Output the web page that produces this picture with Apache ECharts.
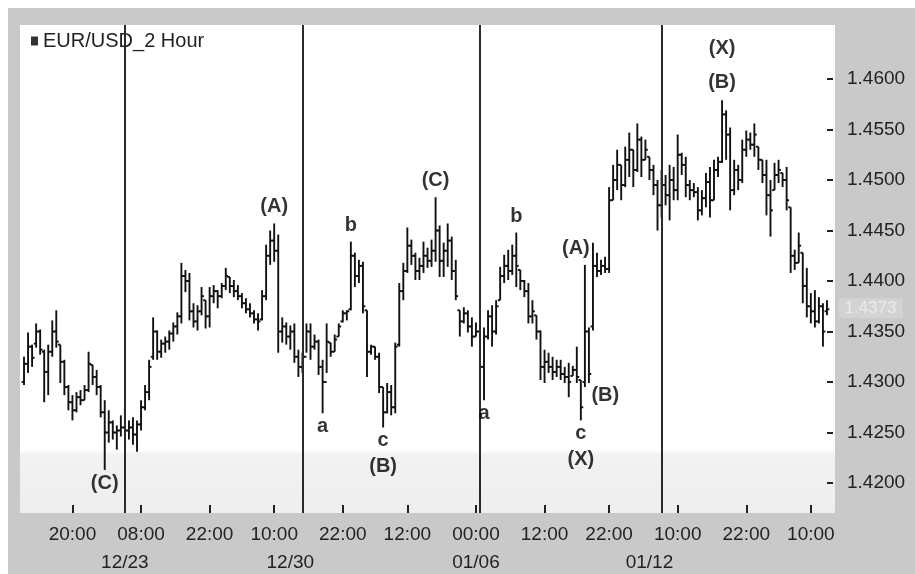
<!DOCTYPE html>
<html>
<head>
<meta charset="utf-8">
<script src="https://cdn.jsdelivr.net/npm/echarts@6/dist/echarts.min.js"></script>
<style>
    html, body { margin: 0; padding: 0; background: #fff; }
    #chart { position: absolute; left: 8px; top: 8px; width: 907px; height: 566px; }
</style>
</head>
<body>
<div id="chart"></div>
<script>
// EUR/USD 2-hour bars (one entry per bar, left to right)
const opens = [
    1.4300, 1.4318, 1.4335, 1.4338, 1.4350, 1.4330, 1.4310, 1.4330, 1.4350, 1.4337,
    1.4320, 1.4295, 1.4280, 1.4272, 1.4285, 1.4282, 1.4292, 1.4317, 1.4305, 1.4295,
    1.4270, 1.4250, 1.4260, 1.4250, 1.4252, 1.4255, 1.4252, 1.4255, 1.4248, 1.4258,
    1.4275, 1.4290, 1.4325, 1.4350, 1.4330, 1.4338, 1.4340, 1.4348, 1.4355, 1.4365,
    1.4405, 1.4400, 1.4370, 1.4360, 1.4370, 1.4381, 1.4365, 1.4385, 1.4390, 1.4385,
    1.4395, 1.4404, 1.4395, 1.4390, 1.4385, 1.4378, 1.4372, 1.4368, 1.4362, 1.4362,
    1.4385, 1.4425, 1.4440, 1.4430, 1.4350, 1.4355, 1.4345, 1.4350, 1.4325, 1.4315,
    1.4325, 1.4350, 1.4335, 1.4340, 1.4315, 1.4300, 1.4339, 1.4330, 1.4345, 1.4360,
    1.4368, 1.4372, 1.4425, 1.4405, 1.4415, 1.4371, 1.4330, 1.4335, 1.4325, 1.4295,
    1.4270, 1.4290, 1.4275, 1.4337, 1.4390, 1.4410, 1.4435, 1.4425, 1.4410, 1.4415,
    1.4425, 1.4420, 1.4430, 1.4450, 1.4420, 1.4430, 1.4440, 1.4410, 1.4371, 1.4360,
    1.4368, 1.4355, 1.4345, 1.4350, 1.4315, 1.4345, 1.4365, 1.4350, 1.4381, 1.4405,
    1.4415, 1.4410, 1.4425, 1.4411, 1.4400, 1.4390, 1.4365, 1.4366, 1.4350, 1.4315,
    1.4320, 1.4315, 1.4310, 1.4315, 1.4308, 1.4305, 1.4306, 1.4312, 1.4302, 1.4300,
    1.4350, 1.4355, 1.4415, 1.4410, 1.4415, 1.4412, 1.4480, 1.4500, 1.4515, 1.4495,
    1.4520, 1.4530, 1.4510, 1.4540, 1.4520, 1.4523, 1.4510, 1.4495, 1.4475, 1.4495,
    1.4485, 1.4500, 1.4490, 1.4525, 1.4515, 1.4495, 1.4490, 1.4488, 1.4470, 1.4482,
    1.4498, 1.4480, 1.4510, 1.4518, 1.4565, 1.4545, 1.4490, 1.4510, 1.4500, 1.4530,
    1.4540, 1.4535, 1.4533, 1.4520, 1.4505, 1.4485, 1.4490, 1.4505, 1.4507, 1.4500,
    1.4473, 1.4425, 1.4418, 1.4428, 1.4395, 1.4375, 1.4370, 1.4360, 1.4375, 1.4370
];
const closes = [
    1.4318, 1.4335, 1.4324, 1.4350, 1.4332, 1.4310, 1.4330, 1.4350, 1.4340, 1.4320,
    1.4295, 1.4280, 1.4272, 1.4285, 1.4282, 1.4292, 1.4318, 1.4305, 1.4295, 1.4270,
    1.4250, 1.4260, 1.4250, 1.4252, 1.4255, 1.4252, 1.4255, 1.4248, 1.4258, 1.4275,
    1.4290, 1.4315, 1.4350, 1.4330, 1.4338, 1.4340, 1.4348, 1.4355, 1.4365, 1.4405,
    1.4400, 1.4370, 1.4360, 1.4370, 1.4385, 1.4365, 1.4385, 1.4390, 1.4385, 1.4395,
    1.4405, 1.4395, 1.4390, 1.4385, 1.4378, 1.4372, 1.4368, 1.4362, 1.4360, 1.4385,
    1.4425, 1.4440, 1.4430, 1.4350, 1.4355, 1.4345, 1.4350, 1.4325, 1.4315, 1.4325,
    1.4350, 1.4335, 1.4340, 1.4315, 1.4300, 1.4340, 1.4330, 1.4342, 1.4355, 1.4368,
    1.4370, 1.4425, 1.4405, 1.4415, 1.4375, 1.4330, 1.4335, 1.4325, 1.4295, 1.4270,
    1.4290, 1.4275, 1.4335, 1.4390, 1.4410, 1.4435, 1.4425, 1.4410, 1.4415, 1.4425,
    1.4420, 1.4430, 1.4450, 1.4420, 1.4430, 1.4440, 1.4410, 1.4385, 1.4360, 1.4368,
    1.4355, 1.4345, 1.4350, 1.4315, 1.4345, 1.4365, 1.4350, 1.4375, 1.4405, 1.4415,
    1.4410, 1.4425, 1.4415, 1.4400, 1.4390, 1.4365, 1.4370, 1.4350, 1.4315, 1.4320,
    1.4315, 1.4310, 1.4315, 1.4308, 1.4305, 1.4300, 1.4312, 1.4305, 1.4275, 1.4350,
    1.4308, 1.4415, 1.4410, 1.4415, 1.4412, 1.4480, 1.4500, 1.4515, 1.4495, 1.4520,
    1.4530, 1.4510, 1.4540, 1.4520, 1.4530, 1.4510, 1.4495, 1.4475, 1.4495, 1.4485,
    1.4500, 1.4490, 1.4525, 1.4515, 1.4495, 1.4490, 1.4488, 1.4470, 1.4482, 1.4498,
    1.4480, 1.4510, 1.4518, 1.4565, 1.4545, 1.4490, 1.4510, 1.4500, 1.4530, 1.4540,
    1.4535, 1.4545, 1.4520, 1.4505, 1.4485, 1.4470, 1.4505, 1.4510, 1.4500, 1.4480,
    1.4425, 1.4418, 1.4435, 1.4395, 1.4375, 1.4370, 1.4360, 1.4375, 1.4350, 1.4372
];
const lows = [
    1.4297, 1.4309, 1.4315, 1.4334, 1.4327, 1.4280, 1.4287, 1.4325, 1.4334, 1.4299,
    1.4287, 1.4272, 1.4262, 1.4270, 1.4277, 1.4282, 1.4290, 1.4297, 1.4287, 1.4265,
    1.4213, 1.4240, 1.4243, 1.4233, 1.4246, 1.4246, 1.4243, 1.4238, 1.4231, 1.4252,
    1.4272, 1.4282, 1.4322, 1.4322, 1.4324, 1.4329, 1.4332, 1.4340, 1.4347, 1.4358,
    1.4389, 1.4361, 1.4354, 1.4351, 1.4366, 1.4353, 1.4354, 1.4378, 1.4373, 1.4383,
    1.4391, 1.4388, 1.4384, 1.4381, 1.4373, 1.4368, 1.4364, 1.4358, 1.4351, 1.4361,
    1.4381, 1.4416, 1.4419, 1.4329, 1.4339, 1.4337, 1.4332, 1.4319, 1.4305, 1.4309,
    1.4329, 1.4322, 1.4332, 1.4307, 1.4269, 1.4309, 1.4325, 1.4330, 1.4345, 1.4359,
    1.4361, 1.4371, 1.4394, 1.4398, 1.4368, 1.4305, 1.4327, 1.4322, 1.4289, 1.4255,
    1.4269, 1.4267, 1.4269, 1.4335, 1.4381, 1.4408, 1.4416, 1.4401, 1.4401, 1.4408,
    1.4413, 1.4414, 1.4419, 1.4404, 1.4404, 1.4414, 1.4401, 1.4381, 1.4345, 1.4358,
    1.4349, 1.4335, 1.4345, 1.4295, 1.4282, 1.4342, 1.4335, 1.4347, 1.4381, 1.4398,
    1.4401, 1.4406, 1.4394, 1.4391, 1.4384, 1.4358, 1.4358, 1.4342, 1.4302, 1.4299,
    1.4309, 1.4302, 1.4305, 1.4302, 1.4299, 1.4285, 1.4306, 1.4299, 1.4262, 1.4295,
    1.4299, 1.4351, 1.4404, 1.4406, 1.4408, 1.4408, 1.4480, 1.4490, 1.4480, 1.4493,
    1.4503, 1.4493, 1.4508, 1.4503, 1.4520, 1.4500, 1.4485, 1.4450, 1.4463, 1.4475,
    1.4460, 1.4480, 1.4480, 1.4505, 1.4483, 1.4480, 1.4483, 1.4460, 1.4465, 1.4473,
    1.4463, 1.4480, 1.4503, 1.4517, 1.4520, 1.4470, 1.4485, 1.4490, 1.4497, 1.4523,
    1.4530, 1.4523, 1.4510, 1.4497, 1.4465, 1.4444, 1.4490, 1.4497, 1.4493, 1.4470,
    1.4408, 1.4411, 1.4418, 1.4378, 1.4364, 1.4358, 1.4354, 1.4358, 1.4335, 1.4366
];
const highs = [
    1.4325, 1.4349, 1.4337, 1.4358, 1.4352, 1.4332, 1.4337, 1.4361, 1.4371, 1.4337,
    1.4322, 1.4297, 1.4287, 1.4290, 1.4292, 1.4297, 1.4330, 1.4317, 1.4312, 1.4297,
    1.4282, 1.4272, 1.4262, 1.4257, 1.4267, 1.4274, 1.4262, 1.4265, 1.4262, 1.4282,
    1.4297, 1.4322, 1.4364, 1.4351, 1.4342, 1.4345, 1.4351, 1.4359, 1.4369, 1.4418,
    1.4411, 1.4408, 1.4378, 1.4376, 1.4394, 1.4381, 1.4394, 1.4396, 1.4391, 1.4398,
    1.4413, 1.4404, 1.4401, 1.4396, 1.4388, 1.4383, 1.4378, 1.4371, 1.4368, 1.4391,
    1.4436, 1.4450, 1.4457, 1.4446, 1.4364, 1.4359, 1.4356, 1.4358, 1.4332, 1.4329,
    1.4358, 1.4358, 1.4347, 1.4342, 1.4322, 1.4358, 1.4339, 1.4347, 1.4358, 1.4371,
    1.4371, 1.4439, 1.4428, 1.4421, 1.4419, 1.4371, 1.4337, 1.4335, 1.4329, 1.4295,
    1.4299, 1.4297, 1.4339, 1.4398, 1.4418, 1.4453, 1.4441, 1.4428, 1.4423, 1.4439,
    1.4433, 1.4441, 1.4483, 1.4455, 1.4438, 1.4457, 1.4444, 1.4421, 1.4371, 1.4374,
    1.4371, 1.4364, 1.4359, 1.4354, 1.4354, 1.4371, 1.4376, 1.4381, 1.4414, 1.4426,
    1.4431, 1.4436, 1.4448, 1.4411, 1.4401, 1.4398, 1.4381, 1.4366, 1.4351, 1.4332,
    1.4329, 1.4325, 1.4322, 1.4322, 1.4315, 1.4319, 1.4316, 1.4335, 1.4302, 1.4416,
    1.4354, 1.4438, 1.4428, 1.4421, 1.4424, 1.4493, 1.4515, 1.4530, 1.4515, 1.4533,
    1.4547, 1.4530, 1.4556, 1.4543, 1.4540, 1.4523, 1.4515, 1.4500, 1.4510, 1.4505,
    1.4515, 1.4513, 1.4545, 1.4527, 1.4523, 1.4500, 1.4497, 1.4493, 1.4490, 1.4507,
    1.4513, 1.4520, 1.4523, 1.4579, 1.4569, 1.4552, 1.4520, 1.4515, 1.4540, 1.4549,
    1.4547, 1.4556, 1.4533, 1.4520, 1.4520, 1.4500, 1.4517, 1.4520, 1.4507, 1.4513,
    1.4473, 1.4431, 1.4448, 1.4428, 1.4413, 1.4388, 1.4391, 1.4384, 1.4378, 1.4381
];

// axis ticks
const yTicks = [1.4200, 1.4250, 1.4300, 1.4350, 1.4400, 1.4450, 1.4500, 1.4550, 1.4600];
const timeTickBars = [12, 29, 46, 62, 79, 95, 112, 129, 145, 162, 179, 195];
const timeTickLabels = ["20:00", "08:00", "22:00", "10:00", "22:00", "12:00", "00:00", "12:00", "22:00", "10:00", "22:00", "10:00"];
const dateTickBars = [25, 66, 112, 155];
const dateTickLabels = ["12/23", "12/30", "01/06", "01/12"];
const weekBreaks = [25, 69, 112.5, 157.5];
const lastQuote = 1.4373;

// wave labels: bar, which end of the bar, text
const waveBars = [20, 62, 74, 81, 89, 102, 114, 122, 139, 140, 138, 173];
const waveSides = ["low", "high", "low", "high", "low", "high", "low", "high", "high", "low", "low", "high"];
const waveTexts = ["(C)", "(A)", "a", "b", "c\n(B)", "(C)", "a", "b", "(A)", "(B)", "c\n(X)", "(X)\n(B)"];

const seriesName = "EUR/USD_2 Hour";
const font = "'Liberation Sans', Arial, sans-serif";
const categories = highs.map((_, i) => String(i));

const chart = echarts.init(document.getElementById("chart"));

function renderOhlc(params, api) {
    const i = api.value(0);
    const pO = api.coord([i, api.value(1)]);
    const pC = api.coord([i, api.value(2)]);
    const pL = api.coord([i, api.value(3)]);
    const pH = api.coord([i, api.value(4)]);
    const x = pH[0];
    const st = () => ({ stroke: "#111", lineWidth: 1.9 });
    return {
        type: "group",
        children: [
            { type: "line", shape: { x1: x, y1: pH[1], x2: x, y2: pL[1] }, style: st() },
            { type: "line", shape: { x1: x - 2.4, y1: pO[1], x2: x, y2: pO[1] }, style: st() },
            { type: "line", shape: { x1: x, y1: pC[1], x2: x + 2.4, y2: pC[1] }, style: st() },
        ]
    };
}

// per-label nudges where the text sits beside the bar
const waveTweaks = {
    8: { offset: [-9, 0] },
    9: { position: "right", offset: [0, 12], distance: 2 },
};

const waveData = waveBars.map((b, k) => {
    const text = waveTexts[k];
    const high = waveSides[k] === "high";
    return {
        value: [b, high ? highs[b] : lows[b]],
        label: Object.assign({
            show: true,
            position: high ? "top" : "bottom",
            distance: high ? (text.includes("\n") ? 0 : 3) : 0,
            formatter: text,
            lineHeight: text.startsWith("(X)\n") ? 34 : 26,
        }, waveTweaks[k] || {})
    };
});

// faint last-price tag beside the final bar
waveData.push({
    value: [highs.length - 1, lastQuote],
    label: {
        show: true, position: "right", distance: 11,
        formatter: lastQuote.toFixed(4),
        fontSize: 17, fontWeight: "normal", color: "#f0f0f0",
        backgroundColor: "#d6d6d6", padding: [1, 6], lineHeight: 18,
    }
});

const option = {
    animation: false,
    backgroundColor: "#c9c9c9",
    textStyle: { fontFamily: font },
    graphic: [{
        type: "rect",
        z: -10,
        silent: true,
        shape: { x: 12, y: 17, width: 815, height: 488 },
        style: {
            fill: new echarts.graphic.LinearGradient(0, 0, 0, 1, [
                { offset: 0, color: "#ffffff" },
                { offset: 0.87, color: "#ffffff" },
                { offset: 0.88, color: "#f2f2f2" },
                { offset: 1, color: "#eeeeee" },
            ])
        }
    }],
    legend: {
        data: [{ name: seriesName, icon: "rect" }],
        left: 18,
        top: 18,
        itemWidth: 7,
        itemHeight: 9,
        selectedMode: false,
        textStyle: { fontSize: 20, color: "#222", fontFamily: font },
    },
    grid: { left: 14, right: 86, top: 17, bottom: 61 },
    xAxis: [{
        type: "category",
        data: categories,
        boundaryGap: true,
        axisLine: { show: false },
        splitLine: { show: false },
        axisTick: {
            show: true, inside: true, length: 8, alignWithLabel: true,
            interval: (i) => timeTickBars.includes(i),
            lineStyle: { color: "#222", width: 2 }
        },
        axisLabel: {
            interval: (i) => timeTickBars.includes(i),
            formatter: (v, i) => timeTickLabels[timeTickBars.indexOf(i)] || "",
            color: "#222", fontSize: 19, margin: 12, fontFamily: font
        },
    }, {
        type: "category",
        data: categories,
        position: "bottom",
        boundaryGap: true,
        axisLine: { show: false },
        axisTick: { show: false },
        splitLine: { show: false },
        axisLabel: {
            interval: (i) => dateTickBars.includes(i),
            formatter: (v, i) => dateTickLabels[dateTickBars.indexOf(i)] || "",
            color: "#222", fontSize: 19, margin: 40, fontFamily: font
        },
    }],
    yAxis: {
        type: "value",
        position: "right",
        min: 1.41703,
        max: 1.46535,
        offset: 4,
        splitLine: { show: false },
        axisLine: { show: false },
        axisTick: {
            show: true, inside: true, length: 6, customValues: yTicks,
            lineStyle: { color: "#222", width: 2 }
        },
        axisLabel: {
            customValues: yTicks,
            formatter: (v) => v.toFixed(4),
            color: "#222", fontSize: 19, margin: 14, fontFamily: font
        },
    },
    series: [{
        name: seriesName,
        type: "custom",
        renderItem: renderOhlc,
        itemStyle: { color: "#333" },
        encode: { x: 0, y: [1, 2, 3, 4] },
        data: opens.map((o, i) => [i, o, closes[i], lows[i], highs[i]]),
        markLine: {
            silent: true,
            symbol: "none",
            label: { show: false },
            lineStyle: { color: "#2a2a2a", width: 2, type: "solid" },
            data: weekBreaks.map((b) => ({ xAxis: b })),
        },
    }, {
        type: "scatter",
        silent: true,
        symbolSize: 1,
        clip: false,
        itemStyle: { color: "rgba(0,0,0,0)" },
        label: { fontSize: 20, fontWeight: "bold", color: "#000", fontFamily: font },
        data: waveData,
        z: 5,
    }]
};

chart.setOption(option);
</script>
</body>
</html>
